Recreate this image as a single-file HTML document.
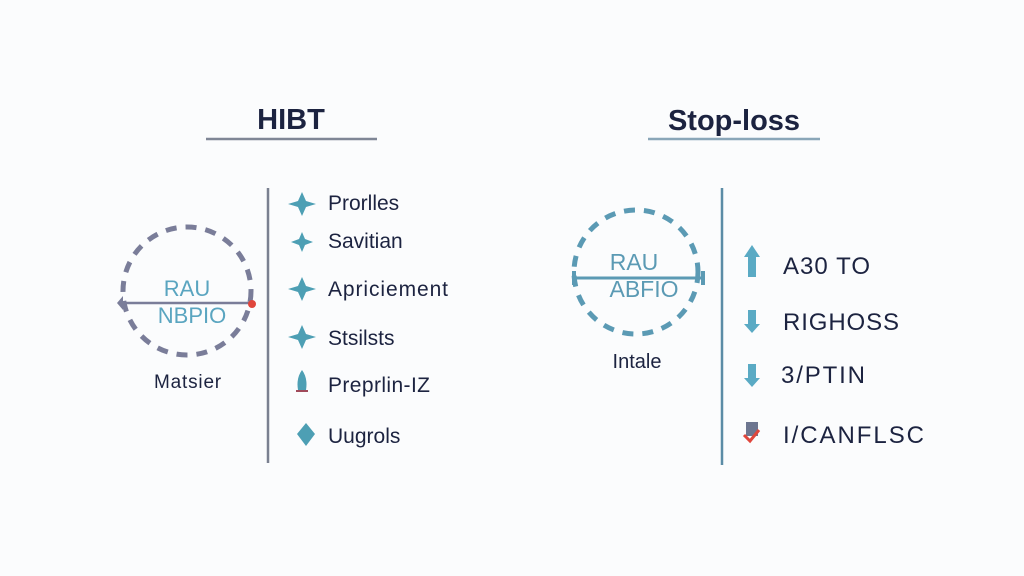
<!DOCTYPE html>
<html><head><meta charset="utf-8"><style>
html,body{margin:0;padding:0;background:#fbfcfd;}
svg{display:block;font-family:"Liberation Sans",sans-serif;}
</style></head><body>
<svg width="1024" height="576" viewBox="0 0 1024 576">
<rect width="1024" height="576" fill="#fbfcfd"/>
<!-- titles -->
<text x="291" y="129" text-anchor="middle" font-size="29" font-weight="bold" fill="#1c2340">HIBT</text>
<line x1="206" y1="139" x2="377" y2="139" stroke="#7f8696" stroke-width="2.5"/>
<text x="734" y="130" text-anchor="middle" font-size="29" font-weight="bold" fill="#1c2340">Stop-loss</text>
<line x1="648" y1="139" x2="820" y2="139" stroke="#8aa6b8" stroke-width="2.5"/>

<!-- left circle -->
<circle cx="187" cy="291" r="64" fill="none" stroke="#7a7d99" stroke-width="5" stroke-dasharray="11 9"/>
<line x1="121" y1="303" x2="252" y2="303" stroke="#7a7d99" stroke-width="2.5"/>
<path d="M117 303 L123 296 L123 310 Z" fill="#7a7d99"/>
<circle cx="252" cy="304" r="4" fill="#e0463c"/>
<text x="187" y="296" text-anchor="middle" font-size="22" fill="#5aa5c0">RAU</text>
<text x="192" y="323" text-anchor="middle" font-size="22" fill="#5aa5c0">NBPIO</text>
<text x="188" y="388" text-anchor="middle" font-size="19" letter-spacing="0.8" fill="#1c2340">Matsier</text>
<line x1="268" y1="188" x2="268" y2="463" stroke="#7a8090" stroke-width="2.5"/>

<g fill="#4d9fb4">
<path d="M302 192 L306 201 L316 204 L306 207 L302 216 L298 207 L288 204 L298 201 Z"/>
<path d="M302 232 L305 239 L313 242 L305 245 L302 252 L299 245 L291 242 L299 239 Z"/>
<path d="M302 277 L306 286 L316 289 L306 292 L302 301 L298 292 L288 289 L298 286 Z"/>
<path d="M302 325 L306 334 L316 337 L306 340 L302 349 L298 340 L288 337 L298 334 Z"/>
<path d="M302 370 Q296 378 298 390 L306 390 Q308 378 302 370 Z"/>
<path d="M306 423 L315 434 L306 446 L297 434 Z"/>
</g>
<line x1="296" y1="391" x2="308" y2="391" stroke="#a04a5a" stroke-width="2"/>
<g font-size="21" fill="#1c2340">
<text x="328" y="210">Prorlles</text>
<text x="328" y="248">Savitian</text>
<text x="328" y="296" textLength="120">Apriciement</text>
<text x="328" y="345">Stsilsts</text>
<text x="328" y="392" textLength="102">Preprlin-IZ</text>
<text x="328" y="443">Uugrols</text>
</g>

<!-- right circle -->
<circle cx="636" cy="272" r="62" fill="none" stroke="#5b9ab4" stroke-width="5" stroke-dasharray="11 9"/>
<line x1="574" y1="278" x2="703" y2="278" stroke="#5b9ab4" stroke-width="3"/>
<rect x="572" y="271" width="4" height="14" fill="#5b9ab4"/>
<rect x="701" y="271" width="4" height="14" fill="#5b9ab4"/>
<text x="634" y="270" text-anchor="middle" font-size="23" fill="#5b9ab4">RAU</text>
<text x="644" y="297" text-anchor="middle" font-size="23" fill="#5b9ab4">ABFIO</text>
<text x="637" y="368" text-anchor="middle" font-size="20" fill="#1c2340">Intale</text>
<line x1="722" y1="188" x2="722" y2="465" stroke="#5b8ca6" stroke-width="2.5"/>

<g fill="#5aaac4">
<path d="M752 245 L760 257 L756 257 L756 277 L748 277 L748 257 L744 257 Z"/>
<path d="M748 310 L756 310 L756 324 L760 324 L752 333 L744 324 L748 324 Z"/>
<path d="M748 364 L756 364 L756 378 L760 378 L752 387 L744 378 L748 378 Z"/>
</g>
<rect x="746" y="422" width="12" height="14" fill="#6d7690"/>
<path d="M744 435 L750 441 L759 430" fill="none" stroke="#e0463c" stroke-width="3"/>
<g font-size="24" fill="#1c2340">
<text x="783" y="274" textLength="87">A30 TO</text>
<text x="783" y="330" textLength="116">RIGHOSS</text>
<text x="781" y="383" textLength="84">3/PTIN</text>
<text x="783" y="443" textLength="141">I/CANFLSC</text>
</g>
</svg>
</body></html>
